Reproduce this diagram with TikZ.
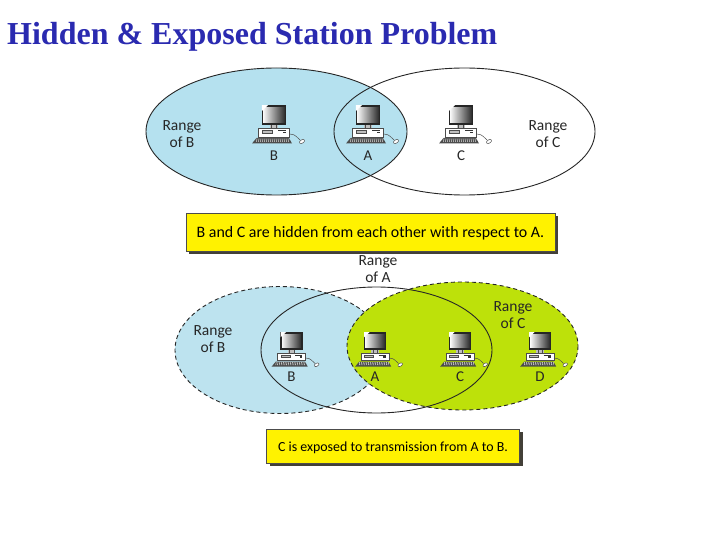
\documentclass[tikz,border=0pt]{standalone}
\usepackage{fontspec}
\setmainfont{Carlito}
\newfontfamily\titlefont{Liberation Serif}
\usepackage{tikz}
\usetikzlibrary{shapes.geometric, shadows}
\definecolor{rangeblue}{HTML}{B5E1EF}
\definecolor{rangepale}{HTML}{BDE3EF}
\definecolor{rangegreen}{HTML}{BDE10A}
\definecolor{titleblue}{HTML}{2A2AB0}
\tikzset{
  rangetext/.style={align=center, font=\fontsize{15.5}{16.5}\selectfont, text=black!85},
  hosttext/.style={font=\fontsize{15}{15}\selectfont, text=black!85},
  rangeline/.style={draw=black!85, line width=0.9pt},
  rangedash/.style={rangeline, dash pattern=on 4pt off 3pt},
  notebox/.style={draw=black!70, fill=yellow, line width=0.7pt, inner sep=0pt,
    text height=11pt, text depth=0pt, text=black,
    drop shadow={shadow xshift=3pt, shadow yshift=-3pt, fill=black!85!yellow, opacity=1}},
  computer/.pic={
    % Monitor
    \draw[draw=black!85, line width=1.5pt, left color=white, right color=black!85] (-11.5,-18) rectangle (11.5,0);
    \fill[white] (-12.2,-18.8) -- (-6,-18.8) -- (-12.2,-13) -- cycle;
    % Stand
    \fill[black!25] (-4,0.7) rectangle (4,4);
    \draw[draw=black!70, line width=0.5pt] (-2.5,0.8) -- (-2.5,4) (2.5,0.8) -- (2.5,4);
    % Case
    \draw[draw=black!70, fill=white, line width=0.5pt] (-15.5,4.5) rectangle (15.5,13);
    \draw[draw=black!70, fill=black!25, line width=0.4pt] (-12,6.5) rectangle (-2,9.5);
    \draw[draw=black!80, line width=1pt] (4,7) -- (12,7);
    \fill[black!80] (9,8) rectangle (12,9.5);
    % Keyboard
    \fill[black!70] (-17.5,14) -- (15,14) -- (18,19.5) -- (-22,19.5) -- cycle;
    \foreach \kx in {-17,-15,...,15}
      \draw[draw=white, line width=0.4pt] (\kx,14.5) -- (\kx-0.5,18);
    % Mouse and cord
    \draw[draw=black!70, line width=0.5pt] (15.5,10) .. controls (22,10) and (23,14) .. (26,16);
    \draw[draw=black!70, fill=white, line width=0.5pt, rotate around={30:(28,17.5)}] (28,17.5) ellipse (2.8 and 1.7);
  }
}
\begin{document}
\begin{tikzpicture}[x=1pt, y=-1pt]
  \useasboundingbox (0,0) rectangle (720,540);

  % Title
  \node[anchor=base west, inner sep=0pt, text=titleblue, font=\titlefont\bfseries\fontsize{32}{32}\selectfont] (title) at (7,45) {Hidden \& Exposed Station Problem};

  % Upper ranges
  \fill[rangeblue] (276.5,131.5) ellipse (130.5 and 63.5);
  \draw[rangeline] (464.5,131.5) ellipse (130.5 and 63.5);
  \draw[rangeline] (276.5,131.5) ellipse (130.5 and 63.5);

  \node[rangetext] (rangeB) at (182,134) {Range\\of B};
  \node[rangetext] (rangeC) at (548,134) {Range\\of C};

  \pic at (274,124) {computer};
  \pic at (368,124) {computer};
  \pic at (461,124) {computer};
  \node[hosttext] (hostB) at (274,156) {B};
  \node[hosttext] (hostA) at (368,156) {A};
  \node[hosttext] (hostC) at (461,156) {C};

  % Upper note
  \node[notebox, font=\fontsize{15.9}{16}\selectfont, minimum width=369pt, minimum height=38pt] (hiddenNote) at (370.5,232) {B and C are hidden from each other with respect to A.};

  % Lower ranges
  \draw[rangedash, fill=rangepale] (280,350) ellipse (105 and 63.5);
  \draw[rangedash, fill=rangegreen] (462.5,346) ellipse (115.5 and 64);
  \draw[rangeline] (376.5,350) ellipse (115.5 and 63);

  \node[rangetext] (rangeA) at (378,269) {Range\\of A};
  \node[rangetext] (rangeBlow) at (213,339) {Range\\of B};
  \node[rangetext] (rangeClow) at (513,315) {Range\\of C};

  \pic[scale=0.9] at (291.5,349) {computer};
  \pic[scale=0.9] at (375,349) {computer};
  \pic[scale=0.9] at (460,349) {computer};
  \pic[scale=0.9] at (540,349) {computer};
  \node[hosttext] (lowB) at (291.5,377) {B};
  \node[hosttext] (lowA) at (375,377) {A};
  \node[hosttext] (lowC) at (460,377) {C};
  \node[hosttext] (lowD) at (540,377) {D};

  % Lower note
  \node[notebox, font=\fontsize{13.9}{14}\selectfont, minimum width=253pt, minimum height=34pt] (exposedNote) at (393,446) {C is exposed to transmission from A to B.};
\end{tikzpicture}
\end{document}
